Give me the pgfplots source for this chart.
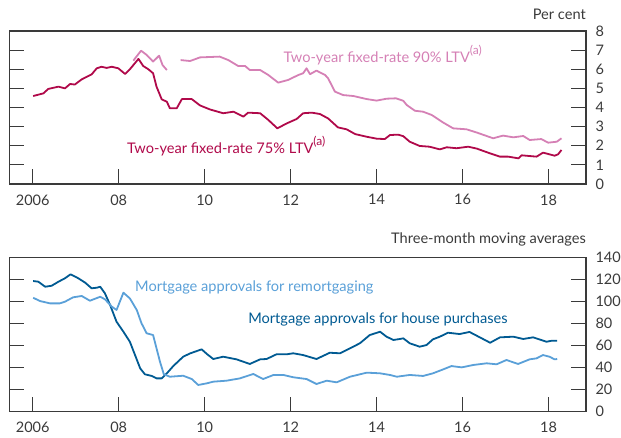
\documentclass[border=0pt]{standalone}
\usepackage{pgfplots}
\pgfplotsset{compat=1.18}
\usepackage{fontspec}
\setmainfont{Lato}
\definecolor{crim}{HTML}{B0094A}
\definecolor{pinkl}{HTML}{D580B5}
\definecolor{dblue}{HTML}{005A92}
\definecolor{lblue}{HTML}{5AA0D8}
\definecolor{axgray}{HTML}{3A3A3A}
\newcommand{\supa}{\raisebox{0.55em}{\fontsize{12bp}{12bp}\selectfont(a)}}
\newcommand{\lfont}{\fontsize{14.6bp}{16bp}\selectfont}
\begin{document}
\begin{tikzpicture}
\pgfplotsset{
  boeaxis/.style={
    scale only axis, width=576.5bp,
    xmin=2005.46, xmax=2018.87,
    xtick={2006,2008,2010,2012,2014,2016,2018},
    xticklabels={2006,08,10,12,14,16,18},
    xtick pos=bottom, ytick pos=both, yticklabel pos=right,
    tick align=inside,
    major tick length=15bp,
    axis line style={axgray, line width=1.1bp},
    every tick/.style={axgray, line width=1.1bp},
    tick label style={font=\fontsize{14.5bp}{16bp}\selectfont, text=axgray},
    /pgf/number format/assume math mode=true,
    yticklabel style={anchor=west, xshift=6bp},
    xticklabel style={anchor=north, yshift=-7bp},
    every axis plot/.append style={line width=1.8bp, line join=round, no markers},
    clip=false,
  }
}
\begin{axis}[boeaxis, at={(0,0)}, anchor=north west, height=153bp,
  ymin=0, ymax=8, ytick={0,1,...,8}]
\addplot[crim] coordinates {
(2006.01,4.60) (2006.25,4.74) (2006.36,4.97) (2006.60,5.09) (2006.75,5.00) (2006.87,5.23) (2006.98,5.20)
(2007.14,5.47) (2007.37,5.73) (2007.49,6.05) (2007.60,6.13) (2007.72,6.07) (2007.84,6.13) (2007.99,6.05)
(2008.15,5.75) (2008.26,6.00) (2008.46,6.54) (2008.57,6.17) (2008.69,6.00) (2008.80,5.79) (2008.88,5.09)
(2009.00,4.43) (2009.12,4.30) (2009.19,3.96) (2009.35,3.96) (2009.47,4.44) (2009.70,4.44) (2009.89,4.11)
(2010.12,3.90) (2010.43,3.70) (2010.67,3.78) (2010.90,3.52) (2011.01,3.73) (2011.29,3.70) (2011.48,3.35)
(2011.69,2.91) (2011.91,3.17) (2012.14,3.40) (2012.29,3.70) (2012.49,3.73) (2012.68,3.66) (2012.87,3.43)
(2013.10,2.96) (2013.30,2.86) (2013.50,2.61) (2013.77,2.47) (2014.00,2.37) (2014.19,2.35) (2014.31,2.56)
(2014.50,2.58) (2014.62,2.50) (2014.77,2.21) (2015.00,1.99) (2015.23,1.95) (2015.47,1.81) (2015.63,1.92)
(2015.86,1.87) (2016.13,1.95) (2016.33,1.85) (2016.64,1.60) (2016.87,1.43) (2017.06,1.43) (2017.30,1.34)
(2017.37,1.50) (2017.72,1.43) (2017.87,1.64) (2018.14,1.48) (2018.22,1.55) (2018.30,1.78)
};
\addplot[pinkl] coordinates {
(2008.34,6.45) (2008.52,6.97) (2008.65,6.75) (2008.80,6.40) (2008.94,6.71) (2009.02,6.22) (2009.12,5.96)
};
\addplot[pinkl] coordinates {
(2009.44,6.48) (2009.66,6.43) (2009.89,6.62) (2010.35,6.66) (2010.55,6.48) (2010.78,6.17) (2010.94,6.17)
(2011.05,5.96) (2011.29,5.96) (2011.48,5.70) (2011.71,5.30) (2011.94,5.44) (2012.18,5.70) (2012.29,5.79)
(2012.37,6.05) (2012.45,5.74) (2012.60,5.93) (2012.80,5.70) (2012.87,5.53) (2013.03,4.83) (2013.22,4.65)
(2013.46,4.60) (2013.77,4.44) (2014.00,4.36) (2014.23,4.46) (2014.45,4.48) (2014.62,4.35) (2014.70,4.13)
(2014.89,3.83) (2015.08,3.78) (2015.28,3.61) (2015.55,3.21) (2015.78,2.91) (2016.09,2.86) (2016.33,2.69)
(2016.71,2.39) (2016.94,2.53) (2017.18,2.44) (2017.41,2.51) (2017.56,2.30) (2017.83,2.35) (2017.99,2.16)
(2018.19,2.21) (2018.30,2.39)
};
\node[anchor=west, inner sep=0pt, text=pinkl, font=\lfont] at (axis cs:2011.83,6.75) {Two-year fixed-rate 90\% LTV\supa};
\node[anchor=west, inner sep=0pt, text=crim, font=\lfont] at (axis cs:2008.19,2.0) {Two-year fixed-rate 75\% LTV\supa};
\node[anchor=base east, inner sep=0pt, text=axgray, font=\lfont] at ([yshift=11bp]rel axis cs:1,1) {Per cent};
\end{axis}
\begin{axis}[boeaxis, at={(0,-226.7bp)}, anchor=north west, height=154bp,
  ymin=0, ymax=140, ytick={0,20,...,140}]
\addplot[dblue] coordinates {
(2006.01,118.8) (2006.13,118.2) (2006.29,113.6) (2006.44,114.5) (2006.60,118.2) (2006.75,121.3) (2006.88,124.9)
(2007.06,121.3) (2007.22,117.3) (2007.37,112.2) (2007.49,112.7) (2007.57,113.6) (2007.68,107.6) (2007.80,97.0)
(2007.95,81.8) (2008.11,72.7) (2008.26,63.6) (2008.38,51.5) (2008.50,39.4) (2008.61,34.0) (2008.77,32.5)
(2008.88,30.3) (2009.00,30.3) (2009.12,34.9) (2009.27,41.5) (2009.50,50.0) (2009.66,53.0) (2009.93,56.7)
(2010.05,52.5) (2010.20,47.9) (2010.43,50.0) (2010.74,47.6) (2011.05,43.4) (2011.29,47.6) (2011.44,47.9)
(2011.67,52.2) (2011.91,52.2) (2012.06,53.1) (2012.29,51.5) (2012.60,47.9) (2012.91,53.6) (2013.15,53.1)
(2013.38,57.6) (2013.61,62.2) (2013.84,69.7) (2014.08,72.7) (2014.23,68.2) (2014.39,65.2) (2014.54,66.1)
(2014.62,66.7) (2014.77,62.2) (2015.00,59.1) (2015.16,60.6) (2015.31,65.8) (2015.47,68.2) (2015.66,71.8)
(2015.93,70.6) (2016.16,72.5) (2016.40,67.6) (2016.64,62.7) (2016.87,67.6) (2017.18,68.2) (2017.41,66.1)
(2017.64,67.6) (2017.95,63.6) (2018.07,64.5) (2018.20,64.5)
};
\addplot[lblue] coordinates {
(2006.01,103.6) (2006.17,100.6) (2006.40,98.5) (2006.63,98.5) (2006.75,100.0) (2006.94,104.0) (2007.14,105.2)
(2007.33,100.9) (2007.57,104.5) (2007.68,102.2) (2007.84,95.5) (2007.95,92.5) (2008.11,108.2) (2008.26,103.0)
(2008.42,92.5) (2008.53,80.4) (2008.65,71.3) (2008.80,69.7) (2008.88,57.6) (2008.96,45.5) (2009.05,34.0)
(2009.19,31.8) (2009.50,32.7) (2009.70,29.7) (2009.85,24.3) (2010.05,25.8) (2010.20,27.3) (2010.51,28.2)
(2010.82,30.3) (2011.13,34.3) (2011.36,29.7) (2011.60,33.4) (2011.83,33.4) (2012.06,31.3) (2012.37,29.7)
(2012.60,25.2) (2012.84,28.2) (2013.07,26.7) (2013.38,31.8) (2013.77,35.5) (2014.08,34.9) (2014.31,33.4)
(2014.47,31.8) (2014.77,33.4) (2015.08,32.5) (2015.31,34.9) (2015.55,38.5) (2015.74,41.5) (2015.98,40.3)
(2016.25,42.5) (2016.56,44.0) (2016.79,43.1) (2017.02,47.0) (2017.29,43.4) (2017.56,47.6) (2017.72,48.5)
(2017.87,51.5) (2018.02,50.0) (2018.14,47.6) (2018.20,47.9)
};
\node[anchor=west, inner sep=0pt, text=lblue, font=\lfont] at (axis cs:2008.38,112.7) {Mortgage approvals for remortgaging};
\node[anchor=west, inner sep=0pt, text=dblue, font=\lfont] at (axis cs:2011.01,84.3) {Mortgage approvals for house purchases};
\node[anchor=base east, inner sep=0pt, text=axgray, font=\lfont] at ([yshift=14.4bp]rel axis cs:1,1) {Three-month moving averages};
\end{axis}
\pgfresetboundingbox
\path[use as bounding box] (-9.5bp,31bp) rectangle (611.5bp,-407bp);
\end{tikzpicture}
\end{document}
